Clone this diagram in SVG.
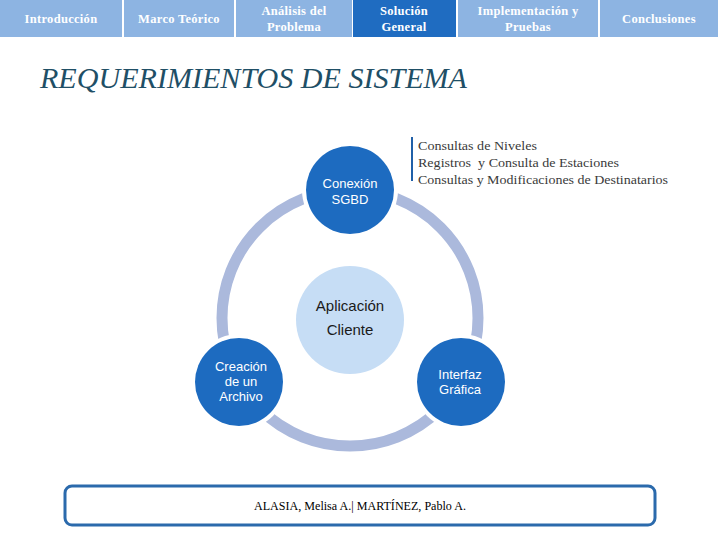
<svg xmlns="http://www.w3.org/2000/svg" width="720" height="540" viewBox="0 0 720 540">
<style>
.tab{fill:#8db4e2}
.tabon{fill:#1f6cc1}
.tt{font-family:"Liberation Serif",serif;font-weight:bold;font-size:12.5px;fill:#ffffff;text-anchor:middle;letter-spacing:0.3px}
.node{fill:#1d6bc0}
.halo{fill:#ffffff}
.nt{font-family:"Liberation Sans",Arial,sans-serif;font-size:13px;fill:#ffffff;text-anchor:middle}
.ct{font-family:"Liberation Sans",Arial,sans-serif;font-size:15px;fill:#1a1a1a;text-anchor:middle}
.side{font-family:"Liberation Serif",serif;font-size:13px;fill:#3a3a3a}
</style>
<rect width="720" height="540" fill="#ffffff"/>
<g id="tabs">
  <g id="tab-intro"><rect class="tab" x="0" y="0" width="122" height="37"/><text class="tt" x="61" y="23">Introducción</text></g>
  <g id="tab-marco"><rect class="tab" x="124" y="0" width="110" height="37"/><text class="tt" x="179" y="23">Marco Teórico</text></g>
  <g id="tab-analisis"><rect class="tab" x="236" y="0" width="116" height="37"/><text class="tt" x="294" y="15">Análisis del</text><text class="tt" x="294" y="31">Problema</text></g>
  <g id="tab-solucion"><rect class="tabon" x="353" y="0" width="103" height="37"/><text class="tt" x="404" y="15">Solución</text><text class="tt" x="404" y="31">General</text></g>
  <g id="tab-impl"><rect class="tab" x="458" y="0" width="140" height="37"/><text class="tt" x="528" y="15">Implementación y</text><text class="tt" x="528" y="31">Pruebas</text></g>
  <g id="tab-concl"><rect class="tab" x="600" y="0" width="118" height="37"/><text class="tt" x="659" y="23">Conclusiones</text></g>
</g>
<text x="40" y="88" font-family="Liberation Serif,serif" font-style="italic" font-size="29" fill="#1f4f66" textLength="427" lengthAdjust="spacingAndGlyphs">REQUERIMIENTOS DE SISTEMA</text>
<g id="connectors">
  <circle cx="350" cy="318" r="128" fill="none" stroke="#abb9dc" stroke-width="11"/>
</g>
<g id="node-center"><circle cx="350" cy="320" r="54" fill="#c6ddf5"/><text class="ct" x="350" y="311">Aplicación</text><text class="ct" x="350" y="335">Cliente</text></g>
<g id="node-sgbd"><circle class="halo" cx="350" cy="190" r="48"/><circle class="node" cx="350" cy="190" r="44"/><text class="nt" x="350" y="188">Conexión</text><text class="nt" x="350" y="204">SGBD</text></g>
<g id="node-archivo"><circle class="halo" cx="239" cy="382" r="48"/><circle class="node" cx="239" cy="382" r="44"/><text class="nt" x="241" y="371">Creación</text><text class="nt" x="241" y="386">de un</text><text class="nt" x="241" y="401">Archivo</text></g>
<g id="node-interfaz"><circle class="halo" cx="461" cy="382" r="48"/><circle class="node" cx="461" cy="382" r="44"/><text class="nt" x="460" y="379">Interfaz</text><text class="nt" x="460" y="394">Gráfica</text></g>
<g id="note">
  <rect x="411" y="137" width="2" height="44" fill="#2060a8"/>
  <text class="side" x="418" y="150" textLength="119" lengthAdjust="spacingAndGlyphs">Consultas de Niveles</text>
  <text class="side" x="418" y="167" xml:space="preserve" textLength="201" lengthAdjust="spacingAndGlyphs">Registros  y Consulta de Estaciones</text>
  <text class="side" x="418" y="184" textLength="250" lengthAdjust="spacingAndGlyphs">Consultas y Modificaciones de Destinatarios</text>
</g>
<g id="footer">
  <rect x="65" y="486" width="590" height="39" rx="7" fill="#ffffff" stroke="#2b6aac" stroke-width="3"/>
  <text x="360" y="510" font-family="Liberation Serif,serif" font-size="12.5" fill="#000000" text-anchor="middle" textLength="212" lengthAdjust="spacingAndGlyphs">ALASIA, Melisa A.| MARTÍNEZ, Pablo A.</text>
</g>
</svg>
